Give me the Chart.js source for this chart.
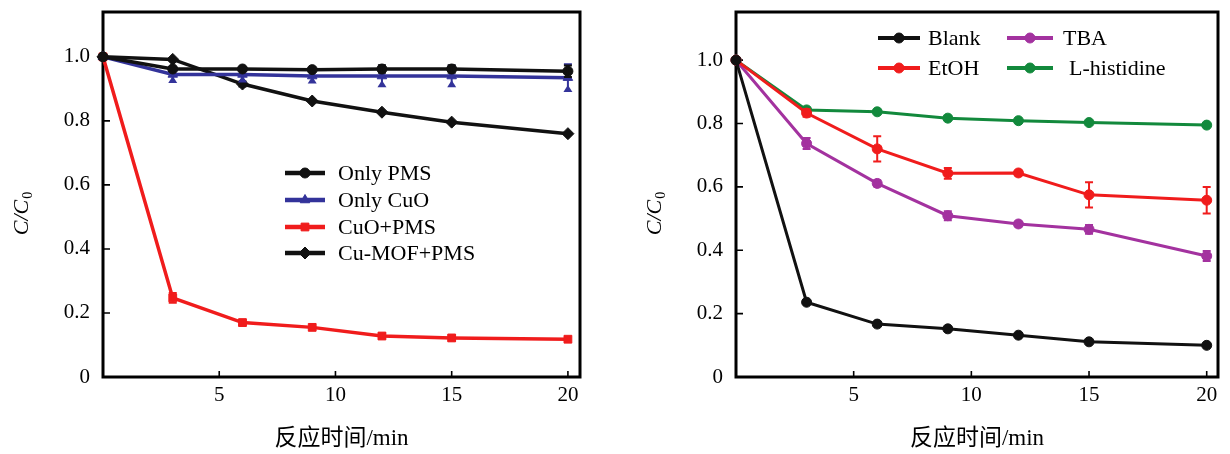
<!DOCTYPE html>
<html><head><meta charset="utf-8">
<script src="https://cdn.jsdelivr.net/npm/chart.js@4.4.1/dist/chart.umd.min.js"></script>
<style>
html,body{margin:0;padding:0;background:#fff;width:1230px;height:454px;overflow:hidden}
#l{position:absolute;left:0;top:0}
#r{position:absolute;left:615px;top:0}
</style></head><body>
<canvas id="l" width="615" height="454"></canvas>
<canvas id="r" width="615" height="454"></canvas>
<script>
// ---------- data ----------
const times = [0, 3, 6, 9, 12, 15, 20];
const xTickValues = [0, 5, 10, 15, 20];
const xTickLabels = ['', '5', '10', '15', '20'];
const yTickValues = [0, 0.2, 0.4, 0.6, 0.8, 1.0];
const yTickLabels = ['0', '0.2', '0.4', '0.6', '0.8', '1.0'];
const xTitle = '反应时间/min';

// left panel
const onlyPMS    = [1.0, 0.962, 0.962, 0.960, 0.962, 0.962, 0.955];
const onlyPMSErr = [0, 0.005, 0.005, 0.005, 0.012, 0.012, 0.018];
const onlyCuO    = [1.0, 0.945, 0.945, 0.940, 0.940, 0.940, 0.935];
const onlyCuOErr = [0, 0.024, 0.022, 0.020, 0.032, 0.032, 0.042];
const cuoPMS     = [1.0, 0.247, 0.170, 0.155, 0.128, 0.122, 0.118];
const cuoPMSErr  = [0, 0.015, 0.008, 0.006, 0.008, 0.008, 0.006];
const cuMOF      = [1.0, 0.992, 0.915, 0.862, 0.827, 0.796, 0.760];
const cuMOFErr   = [0, 0.004, 0.008, 0.005, 0.006, 0.006, 0.005];

// right panel
const blank    = [1.0, 0.236, 0.167, 0.152, 0.132, 0.111, 0.100];
const blankErr = [0, 0.004, 0.005, 0.004, 0.005, 0.005, 0.004];
const etoh     = [1.0, 0.833, 0.720, 0.643, 0.644, 0.575, 0.558];
const etohErr  = [0, 0.012, 0.040, 0.017, 0.008, 0.040, 0.042];
const tba      = [1.0, 0.737, 0.611, 0.509, 0.483, 0.466, 0.382];
const tbaErr   = [0, 0.017, 0.010, 0.014, 0.008, 0.014, 0.016];
const lhis     = [1.0, 0.843, 0.837, 0.817, 0.809, 0.803, 0.795];
const lhisErr  = [0, 0.004, 0.004, 0.004, 0.004, 0.004, 0.004];

// ---------- style ----------
const SERIF = "'Liberation Serif', 'Times New Roman', serif";
const CJK = "'Liberation Serif', 'Noto Sans CJK SC', serif";
const C = {black:'#111111', blue:'#33339a', red:'#f01c1c', purple:'#a3329f', green:'#12893c'};

function pts(arr){ return times.map((t,i)=>({x:t, y:arr[i]})); }

function ds(label, arr, err, color, style, radius, width, cap){
  return {label, data: pts(arr), err, capShape: cap || 'line',
    borderColor: color, backgroundColor: color, pointBackgroundColor: color, pointBorderColor: color,
    pointStyle: style, pointRadius: radius, pointBorderWidth: 1, borderWidth: width,
    tension: 0, clip: false};
}

// plugins
const framePlugin = {
  id: 'frame',
  beforeDatasetsDraw(chart){
    const {ctx, chartArea:a, scales:{x, y}} = chart;
    ctx.save();
    ctx.strokeStyle = '#000'; ctx.lineWidth = 1.6;
    ctx.beginPath();
    xTickValues.forEach(v=>{ if(v===0) return; const px = x.getPixelForValue(v); ctx.moveTo(px, a.bottom); ctx.lineTo(px, a.bottom-6); });
    yTickValues.forEach(v=>{ if(v===0) return; const py = y.getPixelForValue(v); ctx.moveTo(a.left, py); ctx.lineTo(a.left+7, py); });
    ctx.stroke();
    ctx.lineWidth = 3;
    ctx.strokeRect(a.left, a.top, a.right-a.left, a.bottom-a.top);
    ctx.restore();
  }
};

const errPlugin = {
  id: 'errbars',
  afterDatasetDraw(chart, args){
    const d = chart.data.datasets[args.index];
    if(!d.err) return;
    const {ctx, scales:{x, y}} = chart;
    ctx.save();
    ctx.strokeStyle = d.borderColor; ctx.fillStyle = d.borderColor; ctx.lineWidth = 2;
    d.data.forEach((p,i)=>{
      const e = d.err[i]; if(!e || e < 0.007) return;
      const px = x.getPixelForValue(p.x), hi = y.getPixelForValue(p.y+e), lo = y.getPixelForValue(p.y-e);
      ctx.beginPath();
      ctx.moveTo(px, hi); ctx.lineTo(px, lo);
      ctx.moveTo(px-4, hi); ctx.lineTo(px+4, hi);
      if(d.capShape === 'line'){ ctx.moveTo(px-4, lo); ctx.lineTo(px+4, lo); }
      ctx.stroke();
      if(d.capShape === 'triangle'){
        ctx.beginPath(); ctx.moveTo(px, lo-6); ctx.lineTo(px-4.5, lo+1); ctx.lineTo(px+4.5, lo+1); ctx.closePath(); ctx.fill();
      }
    });
    ctx.restore();
  }
};

const legendPlugin = {
  id: 'mylegend',
  afterDraw(chart, args, opts){
    const {ctx} = chart;
    ctx.save();
    ctx.font = '22px ' + SERIF; ctx.textBaseline = 'middle'; ctx.textAlign = 'left';
    opts.items.forEach(it=>{
      const d = chart.data.datasets[it.i];
      ctx.strokeStyle = d.borderColor; ctx.fillStyle = d.borderColor; ctx.lineWidth = opts.lineWidth;
      ctx.beginPath(); ctx.moveTo(it.x0, it.y); ctx.lineTo(it.x1, it.y); ctx.stroke();
      ctx.lineWidth = 1;
      Chart.helpers.drawPoint(ctx, {pointStyle: d.pointStyle, radius: d.pointRadius, rotation: 0, borderWidth: 1}, (it.x0+it.x1)/2, it.y);
      ctx.fillStyle = '#000';
      ctx.fillText(d.label, it.tx, it.y + 1);
    });
    ctx.restore();
  }
};

const yTitlePlugin = {
  id: 'ytitle',
  afterDraw(chart, args, opts){
    const {ctx, chartArea:a} = chart;
    ctx.save();
    ctx.translate(a.left - 82, opts.cy);
    ctx.rotate(-Math.PI/2);
    ctx.fillStyle = '#000'; ctx.textBaseline = 'alphabetic';
    ctx.font = 'italic 22px ' + SERIF;
    const main = 'C/C';
    const w1 = ctx.measureText(main).width;
    ctx.font = '14px ' + SERIF;
    const w2 = ctx.measureText('0').width;
    const x0 = -(w1 + w2)/2;
    ctx.font = 'italic 22px ' + SERIF;
    ctx.fillText(main, x0, 7);
    ctx.font = '14px ' + SERIF;
    ctx.fillText('0', x0 + w1 + 1, 11);
    ctx.restore();
  }
};

function makeOptions(yWidth, rightPad, yMax, xMax, legendItems, legendLine){
  return {
    responsive: false, animation: false, devicePixelRatio: 1,
    layout: {padding: {left: 0, right: rightPad, top: 12, bottom: 0}},
    scales: {
      x: {type: 'linear', min: 0, max: xMax,
        afterBuildTicks: s => { s.ticks = xTickValues.map(v=>({value:v})); },
        afterFit: s => { s.height = 77; s.paddingLeft = 0; s.paddingRight = 0; },
        grid: {display: false, drawTicks: false}, border: {display: false},
        ticks: {color: '#000', font: {family: SERIF, size: 21}, padding: 6, maxRotation: 0,
          callback: (v, i) => xTickLabels[i]},
        title: {display: true, text: xTitle, color: '#000', font: {family: CJK, size: 23}, padding: {top: 0, bottom: 1}}
      },
      y: {type: 'linear', min: 0, max: yMax,
        afterBuildTicks: s => { s.ticks = yTickValues.map(v=>({value:v})); },
        afterFit: s => { s.width = yWidth; s.paddingTop = 0; s.paddingBottom = 0; },
        grid: {display: false, drawTicks: false}, border: {display: false},
        ticks: {color: '#000', font: {family: SERIF, size: 21}, padding: 13,
          callback: (v, i) => yTickLabels[i]}
      }
    },
    plugins: {
      legend: {display: false}, tooltip: {enabled: false},
      mylegend: {items: legendItems, lineWidth: legendLine},
      ytitle: {cy: 214}
    }
  };
}

new Chart(document.getElementById('l'), {
  type: 'line',
  data: {datasets: [
    ds('Only PMS', onlyPMS, onlyPMSErr, C.black, 'circle', 5, 3.5),
    ds('Only CuO', onlyCuO, onlyCuOErr, C.blue, 'triangle', 5.5, 3.5, 'triangle'),
    ds('CuO+PMS', cuoPMS, cuoPMSErr, C.red, 'rect', 5.5, 3.5),
    ds('Cu-MOF+PMS', cuMOF, cuMOFErr, C.black, 'rectRot', 6, 3.5)
  ]},
  options: makeOptions(103, 35, 1.14, 20.52, [
    {i:0, x0:285, x1:325, y:173, tx:338},
    {i:1, x0:285, x1:325, y:200, tx:338},
    {i:2, x0:285, x1:325, y:227, tx:338},
    {i:3, x0:285, x1:325, y:253, tx:338}
  ], 4.5),
  plugins: [framePlugin, errPlugin, legendPlugin, yTitlePlugin]
});

new Chart(document.getElementById('r'), {
  type: 'line',
  data: {datasets: [
    ds('Blank', blank, blankErr, C.black, 'circle', 5, 3),
    ds('EtOH', etoh, etohErr, C.red, 'circle', 5, 3),
    ds('TBA', tba, tbaErr, C.purple, 'circle', 5, 3),
    ds('L-histidine', lhis, lhisErr, C.green, 'circle', 5, 3)
  ]},
  options: makeOptions(121, 12, 1.152, 20.48, [
    {i:0, x0:263, x1:305, y:38, tx:313},
    {i:1, x0:263, x1:305, y:68, tx:313},
    {i:2, x0:392, x1:438, y:38, tx:448},
    {i:3, x0:392, x1:438, y:68, tx:454}
  ], 4),
  plugins: [framePlugin, errPlugin, legendPlugin, yTitlePlugin]
});
</script>
</body></html>
